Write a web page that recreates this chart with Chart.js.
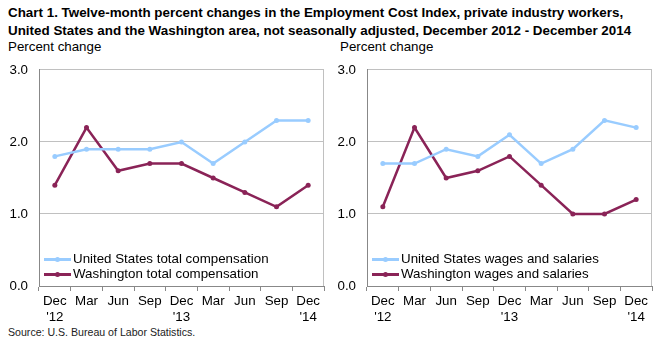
<!DOCTYPE html>
<html>
<head>
<meta charset="utf-8">
<script src="https://cdn.jsdelivr.net/npm/chart.js@4/dist/chart.umd.min.js"></script>
<style>
  body { margin: 0; width: 656px; height: 344px; background: #fff; position: relative; overflow: hidden; font-family: Arial, "Liberation Sans", sans-serif; }
  .title { position: absolute; left: 8px; top: 4px; font-size: 13.4px; font-weight: bold; line-height: 18px; color: #000; white-space: nowrap; }
  .ylab { position: absolute; top: 39px; font-size: 13.33px; color: #000; }
  .src { position: absolute; left: 8px; top: 326px; font-size: 10.6px; color: #222; }
  .box { position: absolute; top: 51px; width: 328px; height: 271px; }
  .leg { position: absolute; font-size: 13.33px; color: #000; white-space: nowrap; line-height: 14px; }
  .leg .ln { position: absolute; left: 0; top: 6px; width: 27px; height: 2.5px; }
  .leg .dt { position: absolute; left: 11px; top: 5px; width: 5px; height: 5px; border-radius: 50%; }
  .leg .tx { position: absolute; left: 29px; top: 0; }
</style>
</head>
<body>
<div class="title">Chart 1. Twelve-month percent changes in the Employment Cost Index, private industry workers,<br>United States and the Washington area, not seasonally adjusted, December 2012 - December 2014</div>
<div class="ylab" style="left:8px">Percent change</div>
<div class="ylab" style="left:340px">Percent change</div>
<div class="box" style="left:0"><canvas id="left"></canvas></div>
<div class="box" style="left:328px"><canvas id="right"></canvas></div>
<div id="legLeft"></div>
<div id="legRight"></div>
<div class="src">Source: U.S. Bureau of Labor Statistics.</div>
<script>
const quarters = [['Dec', "'12"], 'Mar', 'Jun', 'Sep', ['Dec', "'13"], 'Mar', 'Jun', 'Sep', ['Dec', "'14"]];
const yTicks = [0, 1, 2, 3];

const usTotalComp = [1.8, 1.9, 1.9, 1.9, 2.0, 1.7, 2.0, 2.3, 2.3];
const waTotalComp = [1.4, 2.2, 1.6, 1.7, 1.7, 1.5, 1.3, 1.1, 1.4];
const usWages = [1.7, 1.7, 1.9, 1.8, 2.1, 1.7, 1.9, 2.3, 2.2];
const waWages = [1.1, 2.2, 1.5, 1.6, 1.8, 1.4, 1.0, 1.0, 1.2];

const blue = '#99ccff';
const maroon = '#8a2357';
const fontFam = 'Arial, "Liberation Sans", sans-serif';

// right border of the plot area
const plotBorder = {
  id: 'plotBorder',
  afterDraw(chart) {
    const ctx = chart.ctx;
    const a = chart.chartArea;
    ctx.save();
    ctx.strokeStyle = '#c0c0c0';
    ctx.lineWidth = 1;
    ctx.beginPath();
    ctx.moveTo(a.right - 0.5, a.top);
    ctx.lineTo(a.right - 0.5, a.bottom);
    ctx.stroke();
    ctx.restore();
  }
};

// html legend placed inside the plot, bottom left
function buildLegend(holderId, chart, boxLeft) {
  const holder = document.getElementById(holderId);
  const a = chart.chartArea;
  const boxTop = chart.canvas.getBoundingClientRect().top;
  chart.data.datasets.forEach((ds, i) => {
    const d = document.createElement('div');
    d.className = 'leg';
    d.style.left = (boxLeft + a.left + 5) + 'px';
    d.style.top = (boxTop + a.bottom - 34 + i * 15) + 'px';
    d.innerHTML = '<div class="ln" style="background:' + ds.borderColor + '"></div>' +
      '<div class="dt" style="background:' + ds.borderColor + '"></div>' +
      '<div class="tx">' + ds.label + '</div>';
    holder.appendChild(d);
  });
}

function makeChart(id, usLabel, usData, waLabel, waData, padRight) {
  return new Chart(document.getElementById(id), {
    type: 'line',
    data: {
      labels: quarters,
      datasets: [
        { label: usLabel, data: usData, borderColor: blue, backgroundColor: blue, borderWidth: 2.5, pointRadius: 2.5, pointBorderWidth: 0, tension: 0 },
        { label: waLabel, data: waData, borderColor: maroon, backgroundColor: maroon, borderWidth: 2.5, pointRadius: 2.5, pointBorderWidth: 0, tension: 0 }
      ]
    },
    options: {
      responsive: false,
      animation: false,
      layout: { padding: { top: 0, right: padRight, bottom: 0, left: 0 } },
      plugins: { legend: { display: false }, tooltip: { enabled: false } },
      scales: {
        x: {
          offset: true,
          grid: { offset: true, drawOnChartArea: false, color: '#888', tickLength: 5 },
          border: { color: '#888' },
          ticks: { color: '#000', font: { size: 13.33, family: fontFam, lineHeight: 1.15 }, maxRotation: 0, autoSkip: false, padding: 3 },
          afterFit(scale) { scale.height = 36; }
        },
        y: {
          min: 0, max: 3,
          afterBuildTicks(scale) { scale.ticks = yTicks.map(v => ({ value: v })); },
          grid: { color: ctx => ctx.tick.value === 0 ? 'rgba(0,0,0,0)' : '#c0c0c0', drawTicks: false },
          border: { color: '#888' },
          ticks: { color: '#000', padding: 11, font: { size: 13.33, family: fontFam }, callback: v => Number(v).toFixed(1) },
          afterFit(scale) { scale.width = 39; }
        }
      }
    },
    plugins: [plotBorder]
  });
}

['left', 'right'].forEach(id => {
  document.getElementById(id).width = 328;
  document.getElementById(id).height = 271;
});

const leftChart = makeChart('left', 'United States total compensation', usTotalComp, 'Washington total compensation', waTotalComp, 3);
const rightChart = makeChart('right', 'United States wages and salaries', usWages, 'Washington wages and salaries', waWages, 4);
buildLegend('legLeft', leftChart, 0);
buildLegend('legRight', rightChart, 328);
</script>
</body>
</html>
